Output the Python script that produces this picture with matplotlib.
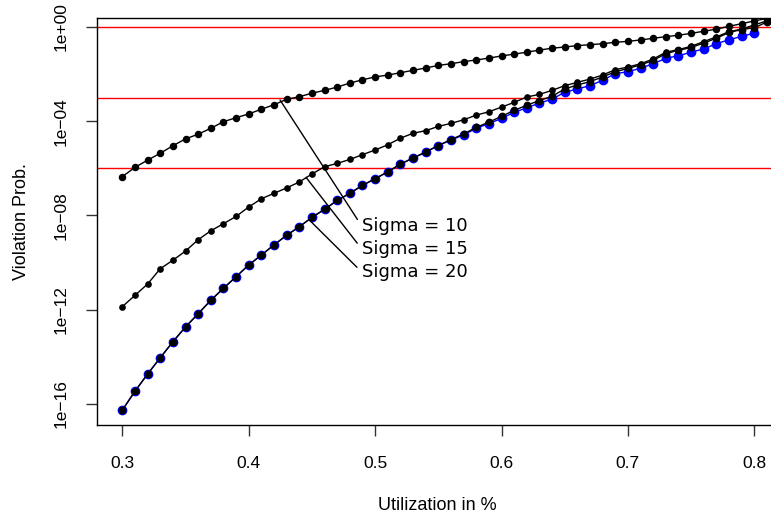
import numpy as np
import matplotlib
matplotlib.use("Agg")
import matplotlib.pyplot as plt
from matplotlib.ticker import FixedLocator, FixedFormatter, NullLocator

# utilization steps
util = [0.30, 0.31, 0.32, 0.33, 0.34, 0.35, 0.36, 0.37, 0.38, 0.39,
        0.40, 0.41, 0.42, 0.43, 0.44, 0.45, 0.46, 0.47, 0.48, 0.49,
        0.50, 0.51, 0.52, 0.53, 0.54, 0.55, 0.56, 0.57, 0.58, 0.59,
        0.60, 0.61, 0.62, 0.63, 0.64, 0.65, 0.66, 0.67, 0.68, 0.69,
        0.70, 0.71, 0.72, 0.73, 0.74, 0.75, 0.76, 0.77, 0.78, 0.79,
        0.80, 0.81, 0.82]

# log10 of violation probability
log_sigma10 = [-6.35, -5.96, -5.65, -5.36, -5.04, -4.75, -4.55, -4.30, -4.02, -3.85,
               -3.69, -3.49, -3.30, -3.07, -2.96, -2.81, -2.69, -2.55, -2.38, -2.24,
               -2.12, -2.04, -1.94, -1.84, -1.74, -1.63, -1.56, -1.47, -1.40, -1.32,
               -1.23, -1.15, -1.07, -0.98, -0.90, -0.85, -0.79, -0.75, -0.71, -0.65,
               -0.61, -0.55, -0.48, -0.41, -0.35, -0.27, -0.18, -0.09, 0.03, 0.14,
               0.26, 0.36, 0.47]
log_sigma15 = [-11.87, -11.39, -10.91, -10.26, -9.90, -9.51, -9.03, -8.65, -8.35, -8.04,
               -7.64, -7.29, -7.06, -6.83, -6.58, -6.24, -5.93, -5.79, -5.62, -5.42,
               -5.22, -5.00, -4.72, -4.51, -4.40, -4.22, -4.09, -3.94, -3.74, -3.60,
               -3.40, -3.20, -2.97, -2.86, -2.69, -2.49, -2.35, -2.21, -2.04, -1.81,
               -1.70, -1.56, -1.36, -1.07, -0.96, -0.82, -0.62, -0.42, -0.20, -0.09,
               0.09, 0.26, 0.40]
log_sigma20 = [-16.26, -15.46, -14.73, -14.04, -13.36, -12.73, -12.17, -11.60, -11.09, -10.60,
               -10.10, -9.68, -9.25, -8.84, -8.48, -8.08, -7.74, -7.36, -7.06, -6.72,
               -6.44, -6.15, -5.82, -5.56, -5.31, -5.03, -4.78, -4.54, -4.26, -4.04,
               -3.79, -3.54, -3.32, -3.12, -2.94, -2.63, -2.46, -2.32, -2.12, -1.90,
               -1.76, -1.61, -1.42, -1.13, -0.99, -0.87, -0.68, -0.48, -0.23, -0.11,
               -0.03, 0.21, 0.36]
# blue reference series (ends at 0.80)
log_blue = [-16.26, -15.46, -14.73, -14.04, -13.36, -12.73, -12.17, -11.60, -11.09, -10.60,
            -10.10, -9.68, -9.25, -8.84, -8.48, -8.08, -7.74, -7.36, -7.06, -6.72,
            -6.44, -6.15, -5.82, -5.56, -5.31, -5.03, -4.80, -4.58, -4.30, -4.10,
            -3.88, -3.62, -3.43, -3.23, -3.06, -2.77, -2.63, -2.49, -2.26, -1.98,
            -1.90, -1.75, -1.56, -1.33, -1.22, -1.07, -0.93, -0.71, -0.54, -0.40,
            -0.26]

thresholds = [1.0, 1e-3, 1e-6]
ytick_vals = [1e0, 1e-4, 1e-8, 1e-12, 1e-16]
ytick_labels = ["1e+00", "1e\u221204", "1e\u221208", "1e\u221212", "1e\u221216"]
xtick_vals = [0.3, 0.4, 0.5, 0.6, 0.7, 0.8]

labels = ["Sigma = 10", "Sigma = 15", "Sigma = 20"]
label_anchor = [(0.4248, 10**-3.10), (0.4453, 10**-6.38), (0.4479, 10**-8.19)]
label_pos = [(0.4894, 10**-8.45), (0.4894, 10**-9.42), (0.4894, 10**-10.40)]

plt.rcParams['font.family'] = ['Liberation Sans', 'DejaVu Sans']

fig = plt.figure(figsize=(7.71, 5.21), dpi=100)
W, H = 771, 521
ax = fig.add_axes([97.3 / W, 1 - 425.3 / H, 1 - 97.3 / W, (425.3 - 18.3) / H])

u = np.array(util)
for t in thresholds:
    ax.axhline(t, color='red', lw=1, zorder=1)

ax.plot(u[:len(log_blue)], 10 ** np.array(log_blue), color='blue', lw=1,
        marker='o', ms=6.0, mec='blue', mfc='blue', zorder=2)
ax.plot(u, 10 ** np.array(log_sigma20), color='black', lw=1,
        marker='o', ms=4.6, mec='black', mfc='black', zorder=3)
ax.plot(u, 10 ** np.array(log_sigma15), color='black', lw=1,
        marker='o', ms=3.8, mec='black', mfc='black', zorder=3)
ax.plot(u, 10 ** np.array(log_sigma10), color='black', lw=1,
        marker='o', ms=4.4, mec='black', mfc='black', zorder=3)

for lab, xy, xyt in zip(labels, label_anchor, label_pos):
    ax.annotate(lab, xy=xy, xytext=xyt, ha='left', va='center',
                fontsize=13, family='DejaVu Sans',
                arrowprops=dict(arrowstyle='-', color='black', lw=1,
                                relpos=(0, 0.5), shrinkA=2, shrinkB=0),
                zorder=4)

ax.set_yscale('log')
ax.set_xlim(0.2802, 0.8132)
ax.set_ylim(10 ** -16.906, 10 ** 0.369)

ax.yaxis.set_major_locator(FixedLocator(ytick_vals))
ax.yaxis.set_major_formatter(FixedFormatter(ytick_labels))
ax.yaxis.set_minor_locator(NullLocator())
ax.set_xticks(xtick_vals)
ax.set_xticklabels(["0.3", "0.4", "0.5", "0.6", "0.7", "0.8"])

ax.tick_params(axis='both', direction='out', length=8, width=1, labelsize=12.5, color='#333333')
ax.tick_params(axis='x', pad=14)
ax.tick_params(axis='y', pad=13)
for lbl in ax.get_yticklabels():
    lbl.set_rotation(90)
    lbl.set_va('center')

ax.spines['right'].set_visible(False)
for s in ['left', 'bottom', 'top']:
    ax.spines[s].set_linewidth(1)

ax.set_xlabel('Utilization in %', fontsize=13)
ax.set_ylabel('Violation Prob.', fontsize=13)
ax.xaxis.set_label_coords((437 - 97.3) / (W - 97.3), -(497 - 425.3) / 407)
ax.yaxis.set_label_coords(-(97.3 - 30) / (W - 97.3), 0.5)

fig.savefig('out.png', dpi=100)
